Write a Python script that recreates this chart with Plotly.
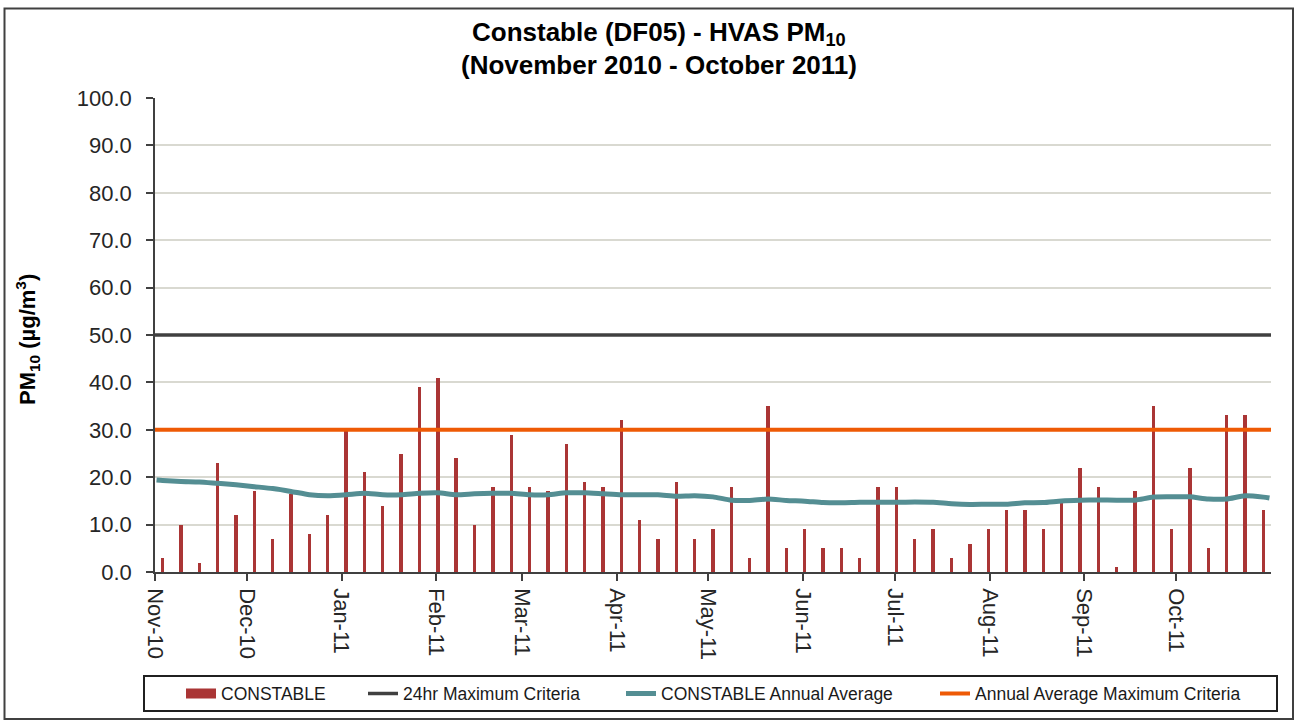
import plotly.graph_objects as go

# ---------------- data ----------------
sample_dates = [
    "2010-11-03", "2010-11-09", "2010-11-15", "2010-11-21", "2010-11-27",
    "2010-12-03", "2010-12-09", "2010-12-15", "2010-12-21", "2010-12-27",
    "2011-01-02", "2011-01-08", "2011-01-14", "2011-01-20", "2011-01-26",
    "2011-02-01", "2011-02-07", "2011-02-13", "2011-02-19", "2011-02-25",
    "2011-03-03", "2011-03-09", "2011-03-15", "2011-03-21", "2011-03-27",
    "2011-04-02", "2011-04-08", "2011-04-14", "2011-04-20", "2011-04-26",
    "2011-05-02", "2011-05-08", "2011-05-14", "2011-05-20", "2011-05-26",
    "2011-06-01", "2011-06-07", "2011-06-13", "2011-06-19", "2011-06-25",
    "2011-07-01", "2011-07-07", "2011-07-13", "2011-07-19", "2011-07-25", "2011-07-31",
    "2011-08-06", "2011-08-12", "2011-08-18", "2011-08-24", "2011-08-30",
    "2011-09-05", "2011-09-11", "2011-09-17", "2011-09-23", "2011-09-29",
    "2011-10-05", "2011-10-11", "2011-10-17", "2011-10-23", "2011-10-29",
]

constable_pm10 = [
    3, 10, 2, 23, 12, 17, 7, 16.5, 8, 12,
    29.8, 21, 14, 25, 39, 41, 24, 10, 18, 29,
    18, 17, 27, 19, 18, 32, 11, 7, 19, 7,
    9, 18, 3, 35, 5, 9, 5, 5, 3, 18,
    18, 7, 9, 3, 6, 9, 13, 13, 9, 14.5,
    22, 18, 1, 17, 35, 9, 22, 5, 33.2, 33.2,
    13,
]

avg_dates = ["2010-11-01"] + sample_dates + ["2011-10-31"]
annual_average = [
    19.4,
    19.3, 19.1, 19.0, 18.7, 18.4, 18.0, 17.6, 17.0, 16.3, 16.1,
    16.3, 16.6, 16.3, 16.3, 16.6, 16.7, 16.3, 16.5, 16.6, 16.6,
    16.3, 16.3, 16.7, 16.7, 16.5, 16.3, 16.3, 16.3, 16.0, 16.1,
    15.85, 15.15, 15.1, 15.4, 15.1, 14.95, 14.65, 14.6, 14.7, 14.7,
    14.7, 14.75, 14.7, 14.4, 14.25, 14.3, 14.3, 14.6, 14.65, 15.0,
    15.15, 15.2, 15.15, 15.15, 15.8, 15.85, 15.85, 15.4, 15.4, 16.1,
    15.8,
    15.6,
]

criteria_dates = ["2010-11-01", "2011-11-01"]
criteria_24hr = [50, 50]
criteria_annual = [30, 30]

month_ticks = [
    "2010-11-01", "2010-12-01", "2011-01-01", "2011-02-01", "2011-03-01", "2011-04-01",
    "2011-05-01", "2011-06-01", "2011-07-01", "2011-08-01", "2011-09-01", "2011-10-01",
]
month_labels = ["Nov-10", "Dec-10", "Jan-11", "Feb-11", "Mar-11", "Apr-11",
                "May-11", "Jun-11", "Jul-11", "Aug-11", "Sep-11", "Oct-11"]

series_names = ["CONSTABLE", "24hr Maximum Criteria",
                "CONSTABLE Annual Average", "Annual Average Maximum Criteria"]

title_line1 = "<b>Constable (DF05) - HVAS PM<sub>10</sub></b>"
title_line2 = "<b>(November 2010 - October 2011)</b>"
y_title = "<b>PM<sub>10</sub> (µg/m<sup>3</sup>)</b>"

# ---------------- style ----------------
FONT = "Arial, Liberation Sans, sans-serif"
BAR_C = "#AA3535"
DARK_C = "#404040"
TEAL_C = "#548E93"
ORANGE_C = "#EE5A05"
DAY_MS = 86400000

L, R, T, B = 155, 26, 98, 150
W, H = 1297, 722
PW, PH = W - L - R, H - T - B


def px_x(p):
    return (p - L) / PW


def px_y(p):
    return (H - B - p) / PH


fig = go.Figure()

fig.add_trace(go.Bar(
    x=sample_dates, y=constable_pm10, xperiod=DAY_MS, xperiodalignment="middle",
    width=DAY_MS * 1.1, marker=dict(color=BAR_C, line_width=0), showlegend=False,
    name=series_names[0],
))
fig.add_trace(go.Scatter(
    x=criteria_dates, y=criteria_24hr, mode="lines",
    line=dict(color=DARK_C, width=3.5), name=series_names[1], legend="legend2",
))
fig.add_trace(go.Scatter(
    x=avg_dates, y=annual_average, mode="lines", xperiod=DAY_MS, xperiodalignment="middle",
    line=dict(color=TEAL_C, width=5, shape="spline", smoothing=0.6),
    name=series_names[2], legend="legend3",
))
fig.add_trace(go.Scatter(
    x=criteria_dates, y=criteria_annual, mode="lines",
    line=dict(color=ORANGE_C, width=4), name=series_names[3], legend="legend4",
))
# legend proxy for the bar series (wide block symbol)
fig.add_trace(go.Scatter(
    x=[None], y=[None], mode="lines", line=dict(color=BAR_C, width=10),
    name=series_names[0], legend="legend",
))

leg_y = px_y(693.5)
leg_common = dict(orientation="h", xanchor="left", yanchor="middle", y=leg_y,
                  bgcolor="rgba(0,0,0,0)", font=dict(family=FONT, size=17.5, color="#1a1a1a"))

fig.update_layout(
    width=W, height=H,
    margin=dict(l=L, r=R, t=T, b=B, autoexpand=False),
    paper_bgcolor="white", plot_bgcolor="white",
    font=dict(family=FONT, color="#262626"),
    legend=dict(x=px_x(181), **leg_common),
    legend2=dict(x=px_x(363), **leg_common),
    legend3=dict(x=px_x(621), **leg_common),
    legend4=dict(x=px_x(935), **leg_common),
    bargap=0,
    xaxis=dict(
        type="date", range=["2010-11-01", "2011-11-01"],
        tickmode="array", tickvals=month_ticks, ticktext=month_labels,
        tickangle=90, ticks="outside", ticklen=7, tickcolor=DARK_C, tickwidth=1.5,
        showline=True, linecolor=DARK_C, linewidth=1.5,
        showgrid=False, zeroline=False, automargin=False,
        tickfont=dict(family=FONT, size=22, color="#262626"),
        ticklabelstandoff=3,
    ),
    yaxis=dict(
        range=[0, 100], dtick=10, tickformat=".1f",
        ticks="outside", ticklen=7, tickcolor=DARK_C, tickwidth=1.5,
        showline=True, linecolor=DARK_C, linewidth=1.5,
        showgrid=True, gridcolor="#D9D9D1", gridwidth=1.5, zeroline=False,
        automargin=False,
        tickfont=dict(family=FONT, size=22, color="#262626"),
        ticklabelstandoff=10,
    ),
    annotations=[
        dict(text=title_line1, xref="paper", yref="paper", x=px_x(659), y=px_y(33.5),
             xanchor="center", yanchor="middle", showarrow=False,
             font=dict(family=FONT, size=26, color="#000000")),
        dict(text=title_line2, xref="paper", yref="paper", x=px_x(659), y=px_y(65),
             xanchor="center", yanchor="middle", showarrow=False,
             font=dict(family=FONT, size=26, color="#000000")),
        dict(text=y_title, textangle=-90,
             xref="paper", yref="paper", x=px_x(27), y=px_y(340),
             xanchor="center", yanchor="middle", showarrow=False,
             font=dict(family=FONT, size=22, color="#000000")),
    ],
    shapes=[
        dict(type="rect", xref="paper", yref="paper",
             x0=px_x(4.5), x1=px_x(1293), y0=px_y(719), y1=px_y(8.5),
             line=dict(color=DARK_C, width=2), fillcolor="rgba(0,0,0,0)", layer="below"),
        dict(type="rect", xref="paper", yref="paper",
             x0=px_x(144), x1=px_x(1277), y0=px_y(711), y1=px_y(676),
             line=dict(color="#202020", width=2), fillcolor="rgba(0,0,0,0)", layer="below"),
    ],
)

fig.write_html("out.html", config={"displayModeBar": False},
               post_script="document.body.style.margin='0';")
